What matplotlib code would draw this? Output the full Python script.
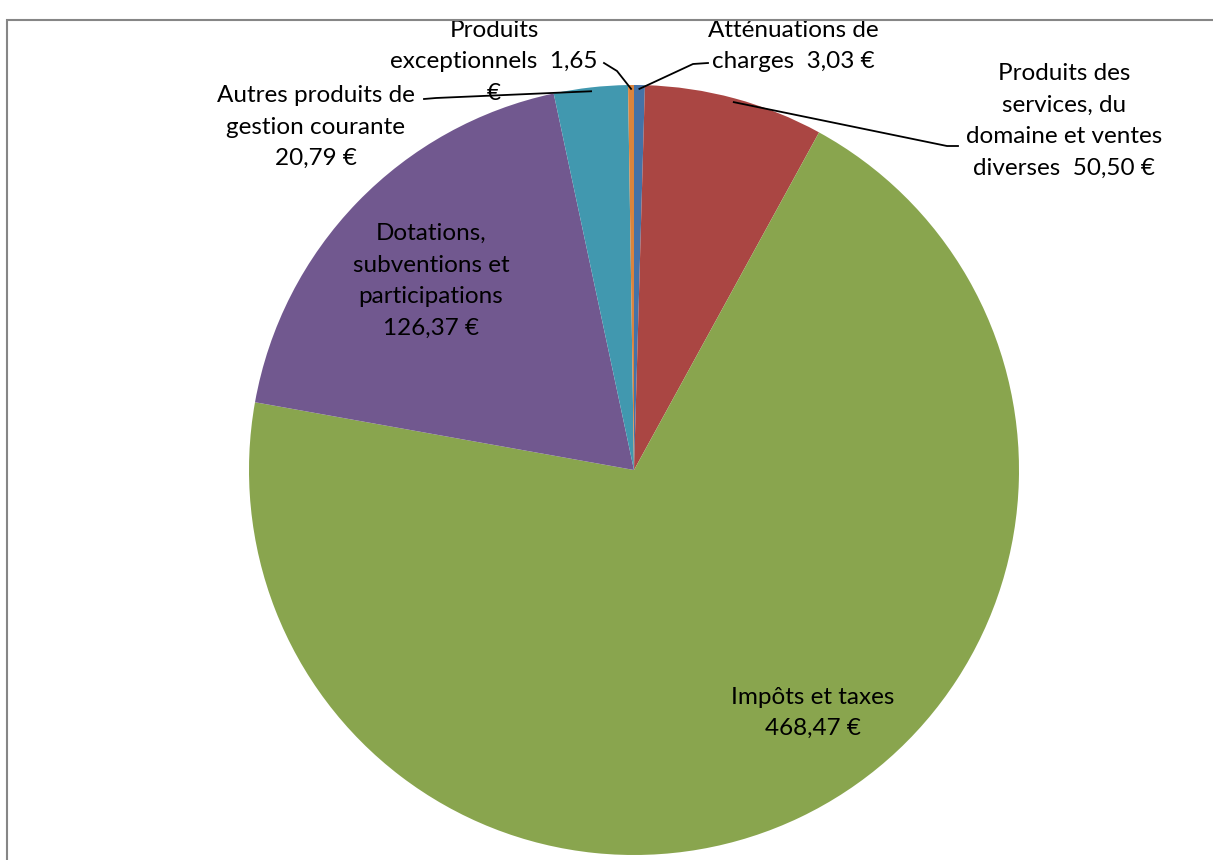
import numpy as np
import matplotlib.pyplot as plt
from matplotlib.patches import Rectangle

# data, clockwise from 12 o'clock
labels = ['Atténuations de\ncharges', 'Produits des\nservices, du\ndomaine et ventes\ndiverses',
          'Impôts et taxes', 'Dotations,\nsubventions et\nparticipations',
          'Autres produits de\ngestion courante', 'Produits\nexceptionnels']
values = [3.03, 50.50, 468.47, 126.37, 20.79, 1.65]
colors = ['#4572A7', '#AA4643', '#89A54E', '#71588F', '#4198AF', '#DB843D']

W, H = 1213, 860
fig = plt.figure(figsize=(W / 100, H / 100), dpi=100)
plt.rcParams['font.family'] = ['Lato', 'DejaVu Sans']

# frame of the original chart area
fig.patches.append(Rectangle((6.5 / W, -0.1), 1.1, 1.1 - 19.5 / H, transform=fig.transFigure,
                             fill=False, edgecolor='#868686', lw=1.5))

cx, cy, r = 634, 470, 385
ax = fig.add_axes([(cx - r) / W, 1 - (cy + r) / H, 2 * r / W, 2 * r / H])
wedges, _ = ax.pie(values, colors=colors, startangle=90, counterclock=False,
                   wedgeprops=dict(linewidth=0))
ax.set_xlim(-1, 1)
ax.set_ylim(-1, 1)
ax.set_aspect('auto')
ax.axis('off')


def px(x, y):
    # pixel position -> data coords of the pie axes
    return (x - cx) / r, (cy - y) / r


def fmt(v):
    return f"{v:.2f}".replace('.', ',') + ' €'


txt = [
    labels[0] + '  ' + fmt(values[0]),
    labels[1] + '  ' + fmt(values[1]),
    labels[2] + '\n' + fmt(values[2]),
    labels[3] + '\n' + fmt(values[3]),
    labels[4] + '\n' + fmt(values[4]),
    labels[5] + '  ' + fmt(values[5]).replace(' €', '\n€'),
]
# label centres (pixels)
pos = [(793, 46), (1064, 121), (813, 713), (431, 281), (316, 127), (494, 62)]
# leader elbows (pixels), None = inside label
elbow = [[(708, 63), (693, 64)], [(958, 146), (947, 146)], None, None,
         [(424, 99), (436, 98)], [(604, 63), (617, 71)]]

for i, w in enumerate(wedges):
    x, y = px(*pos[i])
    ax.text(x, y, txt[i], ha='center', va='center', fontsize=17.5,
            linespacing=1.62, color='black', clip_on=False)
    if elbow[i] is not None:
        ang = np.deg2rad((w.theta1 + w.theta2) / 2)
        ax_, ay_ = 0.99 * np.cos(ang), 0.99 * np.sin(ang)
        pts = [px(*p) for p in elbow[i]] + [(ax_, ay_)]
        ax.plot([p[0] for p in pts], [p[1] for p in pts], color='black', lw=1.3,
                clip_on=False)

fig.savefig('out.png', dpi=100)
